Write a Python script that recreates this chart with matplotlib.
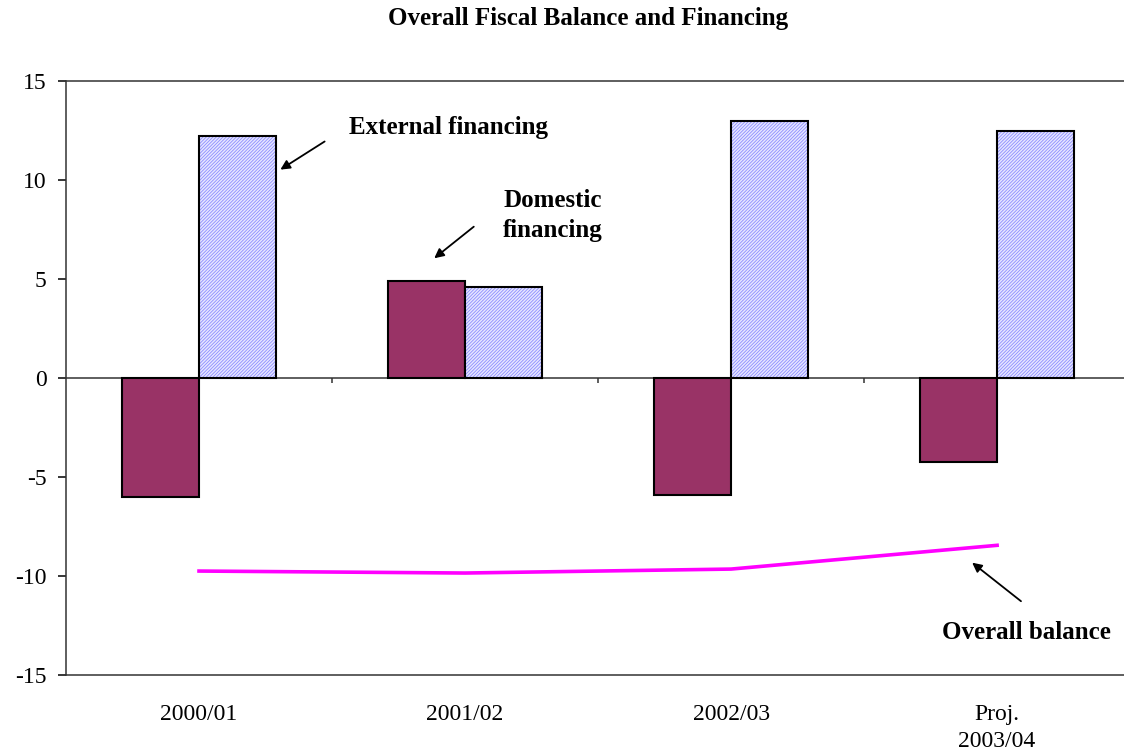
import matplotlib
matplotlib.use("Agg")
import matplotlib.pyplot as plt
import numpy as np

# data
years = ["2000/01", "2001/02", "2002/03", "Proj.\n2003/04"]
domestic = [-6.0, 4.9, -5.9, -4.25]
external = [12.2, 4.6, 13.0, 12.5]
overall = [-9.75, -9.85, -9.65, -8.45]

plt.rcParams['font.family'] = ['Liberation Serif', 'DejaVu Serif']
plt.rcParams['axes.unicode_minus'] = False
plt.rcParams['hatch.linewidth'] = 0.6

fig = plt.figure(figsize=(11.24, 7.54), dpi=100)
ax = fig.add_axes([66 / 1124, 1 - 675 / 754, 1 - 66 / 1124, (675 - 81) / 754])

x = np.arange(len(years))
w = 0.29
ax.bar(x - w / 2, domestic, w, color='#993366', edgecolor='black', linewidth=1.5, zorder=3)
# hatched fill in blue, then a black outline on top
ax.bar(x + w / 2, external, w, color='#e6e6ff', edgecolor='#8c8cff', linewidth=0,
       hatch='//////////', zorder=3)
ax.bar(x + w / 2, external, w, fill=False, edgecolor='black', linewidth=1.5, zorder=3)
ax.plot(x, overall, color='#ff00ff', linewidth=2.6, zorder=4)

# zero line with category separators
ax.axhline(0, color='#333333', linewidth=1.1, zorder=2)
ax.vlines(x[:-1] + 0.5, -0.25, 0, color='#333333', linewidth=1.1, zorder=2)

ax.set_xlim(-0.5, 3.477)
ax.set_ylim(-15, 15)
ax.set_yticks(range(-15, 16, 5))
ax.set_xticks(x)
ax.set_xticklabels(years, linespacing=1.35)
ax.tick_params(axis='x', length=0, pad=21, labelsize=17)
ax.tick_params(axis='y', length=6, width=1.1, labelsize=17, pad=8)
ax.spines['right'].set_visible(False)
for s in ['top', 'bottom', 'left']:
    ax.spines[s].set_color('#333333')
    ax.spines[s].set_linewidth(1.1)

arrow = dict(arrowstyle='-|>', color='black', lw=1.3, mutation_scale=14)
ax.annotate('', xy=(0.297, 10.45), xytext=(0.481, 12.02), arrowprops=arrow)
ax.annotate('', xy=(0.876, 5.96), xytext=(1.041, 7.73), arrowprops=arrow)
ax.annotate('', xy=(2.898, -9.24), xytext=(3.098, -11.36), arrowprops=arrow)

ax.text(0.564, 12.63, 'External financing', fontsize=18, fontweight='bold',
        ha='left', va='center')
ax.text(1.331, 8.2, 'Domestic\nfinancing', fontsize=18, fontweight='bold',
        ha='center', va='center', linespacing=1.4)
ax.text(3.109, -12.83, 'Overall balance', fontsize=18, fontweight='bold',
        ha='center', va='center')

fig.text(588 / 1124, 1 - 18 / 754, 'Overall Fiscal Balance and Financing',
         fontsize=18, fontweight='bold', ha='center', va='center')

fig.savefig('out.png', dpi=100)
